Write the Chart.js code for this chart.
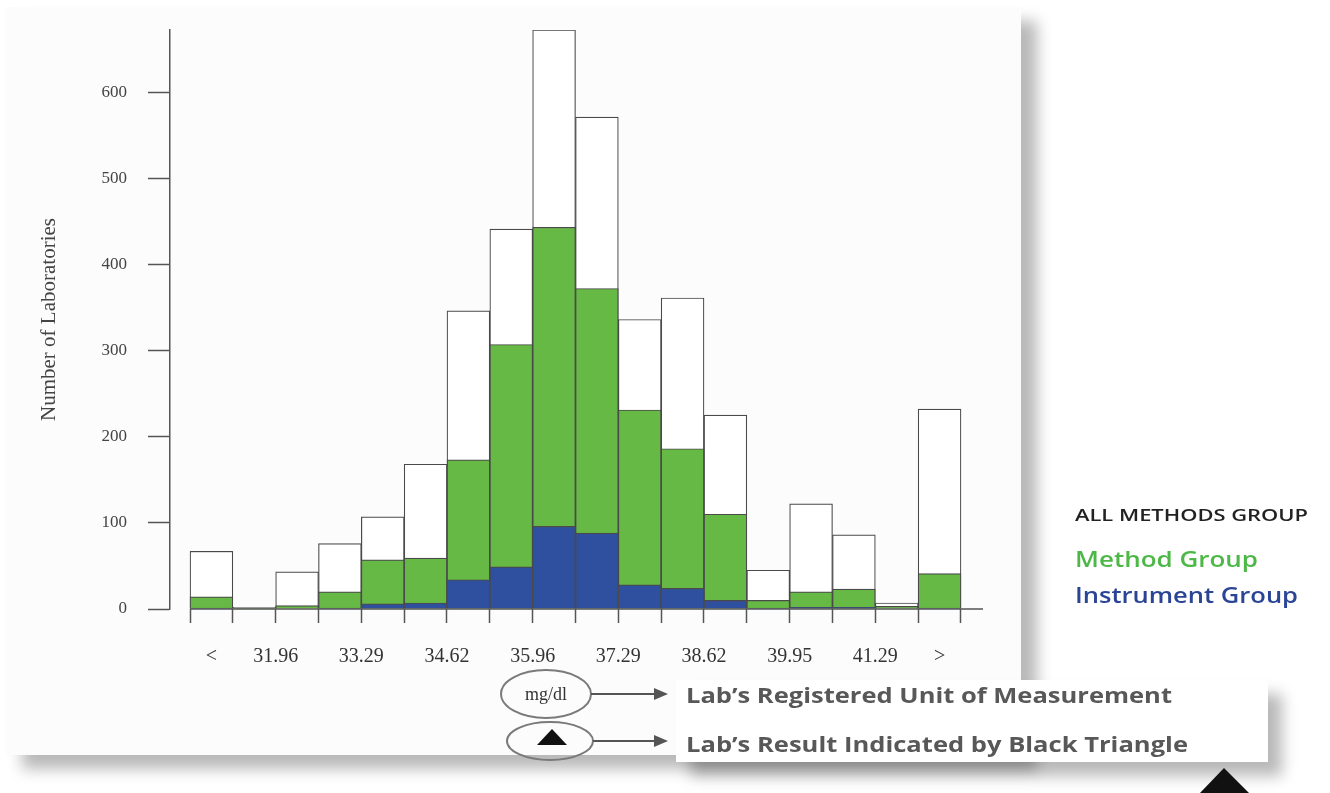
<!DOCTYPE html>
<html>
<head>
<meta charset="utf-8">
<title>Number of Laboratories histogram</title>
<script src="https://cdn.jsdelivr.net/npm/chart.js@4.4.1/dist/chart.umd.min.js"></script>
<style>
  html, body { margin: 0; padding: 0; background: #ffffff; }
  body { width: 1330px; height: 793px; position: relative; overflow: hidden; }
  #panel {
    position: absolute; left: 6px; top: 7px; width: 1015px; height: 748px;
    background: #fcfcfc;
    box-shadow: 16px 14px 14px rgba(0,0,0,0.28);
  }
  #panel canvas { position: absolute; left: 0; top: 0; }
  #callout {
    position: absolute; left: 676px; top: 680px; width: 592px; height: 82px;
    background: #ffffff;
    box-shadow: 14px 14px 14px rgba(0,0,0,0.28);
  }
  #overlay { position: absolute; left: 0; top: 0; pointer-events: none; }
</style>
</head>
<body>
<div id="panel"><canvas id="hist" width="1015" height="748"></canvas></div>
<div id="callout"></div>
<svg id="overlay" width="1330" height="793" viewBox="0 0 1330 793">
  <!-- legend on the right -->
  <text x="1075" y="521" font-family="Open Sans" font-weight="600" font-size="16" fill="#222" textLength="233" lengthAdjust="spacingAndGlyphs">ALL METHODS GROUP</text>
  <text x="1075" y="567" font-family="Open Sans" font-weight="600" font-size="22" fill="#4db848" textLength="183" lengthAdjust="spacingAndGlyphs">Method Group</text>
  <text x="1075" y="603" font-family="Open Sans" font-weight="600" font-size="22" fill="#2b4596" textLength="223" lengthAdjust="spacingAndGlyphs">Instrument Group</text>

  <!-- unit / triangle explanation -->
  <ellipse cx="546" cy="694" rx="45" ry="24" fill="none" stroke="#7a7a7a" stroke-width="2"/>
  <text x="546" y="700" text-anchor="middle" font-family="Liberation Serif" font-size="18" fill="#333">mg/dl</text>
  <ellipse cx="550" cy="741" rx="43" ry="19" fill="none" stroke="#7a7a7a" stroke-width="2"/>
  <polygon points="552,729 537,745 567,745" fill="#111"/>

  <line x1="591" y1="694" x2="658" y2="694" stroke="#555" stroke-width="2"/>
  <polygon points="668,694 654,688 654,700" fill="#555"/>
  <line x1="593" y1="741" x2="658" y2="741" stroke="#555" stroke-width="2"/>
  <polygon points="668,741 654,735 654,747" fill="#555"/>

  <text x="686" y="703" font-family="Open Sans" font-weight="bold" font-size="21" fill="#585858" textLength="486" lengthAdjust="spacingAndGlyphs">Lab’s Registered Unit of Measurement</text>
  <text x="686" y="752" font-family="Open Sans" font-weight="bold" font-size="21" fill="#585858" textLength="502" lengthAdjust="spacingAndGlyphs">Lab’s Result Indicated by Black Triangle</text>

  <polygon points="1224,768 1199,794 1250,794" fill="#111"/>
</svg>

<script>
// bins: "<", then 16 interval bins, then ">"
const allMethods      = [67, 2, 43, 76, 107, 168, 346, 441, 672, 571, 336, 361, 225, 45, 122, 86, 7, 232];
const methodGroup     = [14, 1,  4, 20,  57,  59, 173, 307, 443, 372, 231, 186, 110, 10,  20, 23, 3,  41];
const instrumentGroup = [ 1, 0,  0,  1,   6,   7,  34,  49,  96,  88,  28,  24,  10,  1,   2,  2, 0,   1];

// x tick labels and the bin edge (in bins) where each one sits
const tickLabels = ['<', '31.96', '33.29', '34.62', '35.96', '37.29', '38.62', '39.95', '41.29', '>'];
const tickEdges  = [0.5, 2, 4, 6, 8, 10, 12, 14, 16, 17.5];

const yTicks = [0, 100, 200, 300, 400, 500, 600];
const yMax = 672;

const nBins = allMethods.length;
const toPoints = arr => arr.map((v, i) => ({x: i + 0.5, y: v}));

const AXIS = '#555555';
const SERIF = "'Liberation Serif', 'Times New Roman', serif";

// baseline drawn from the first bin edge to the right end of the plot
const baselinePlugin = {
  id: 'baseline',
  afterDatasetsDraw(chart){
    const {ctx, chartArea, scales} = chart;
    const y0 = scales.y.getPixelForValue(0);
    ctx.save();
    ctx.strokeStyle = AXIS;
    ctx.lineWidth = 1.5;
    ctx.beginPath();
    ctx.moveTo(scales.x.getPixelForValue(0), y0);
    ctx.lineTo(chartArea.right, y0);
    ctx.stroke();
    ctx.restore();
  }
};

// fixed axis box sizes, no extra auto padding from the tick labels
const fixSize = (w, h) => s => {
  if (w !== null) s.width = w;
  if (h !== null) s.height = h;
  s.paddingTop = 0; s.paddingBottom = 0; s.paddingLeft = 0; s.paddingRight = 0;
};

const barStyle = {borderColor: '#4a4a4a', borderWidth: 1.2, categoryPercentage: 1, barPercentage: 1, grouped: false};

new Chart(document.getElementById('hist'), {
  type: 'bar',
  data: {
    datasets: [
      Object.assign({label: 'Instrument Group', data: toPoints(instrumentGroup), backgroundColor: '#2f4f9f', order: 0}, barStyle),
      Object.assign({label: 'Method Group', data: toPoints(methodGroup), backgroundColor: '#67b945', order: 1}, barStyle),
      Object.assign({label: 'All Methods Group', data: toPoints(allMethods), backgroundColor: '#ffffff', order: 2}, barStyle)
    ]
  },
  plugins: [baselinePlugin],
  options: {
    responsive: false,
    animation: false,
    layout: {padding: {left: 0, top: 23, right: 38, bottom: 0}},
    plugins: {legend: {display: false}, tooltip: {enabled: false}},
    scales: {
      x: {
        type: 'linear', position: 'bottom', weight: 0, offset: false,
        min: -0.467, max: nBins + 0.514,
        afterBuildTicks: s => { s.ticks = Array.from({length: nBins + 1}, (_, i) => ({value: i})); },
        afterFit: fixSize(null, 14),
        border: {display: false},
        grid: {offset: false, drawOnChartArea: false, drawTicks: true, tickLength: 14, tickColor: AXIS, tickWidth: 1.5},
        ticks: {display: false}
      },
      xl: {
        type: 'linear', position: 'bottom', weight: 1, offset: false,
        min: -0.467, max: nBins + 0.514,
        afterBuildTicks: s => { s.ticks = tickEdges.map(v => ({value: v})); },
        afterFit: fixSize(null, 132),
        border: {display: false},
        grid: {display: false, offset: false},
        ticks: {
          autoSkip: false, maxRotation: 0, padding: 14,
          color: '#333', font: {family: SERIF, size: 20},
          callback: v => tickLabels[tickEdges.indexOf(v)]
        }
      },
      y: {
        min: 0, max: yMax,
        afterBuildTicks: s => { s.ticks = yTicks.map(v => ({value: v})); },
        afterFit: fixSize(164, null),
        border: {display: true, color: AXIS, width: 1.5},
        grid: {drawOnChartArea: false, drawTicks: true, tickLength: 22, tickColor: AXIS, tickWidth: 1.5},
        ticks: {padding: 21, color: '#444', font: {family: SERIF, size: 17}},
        title: {display: true, text: 'Number of Laboratories', color: '#444', font: {family: SERIF, size: 21}, padding: {top: 31, bottom: 0}}
      }
    }
  }
});
</script>
</body>
</html>
